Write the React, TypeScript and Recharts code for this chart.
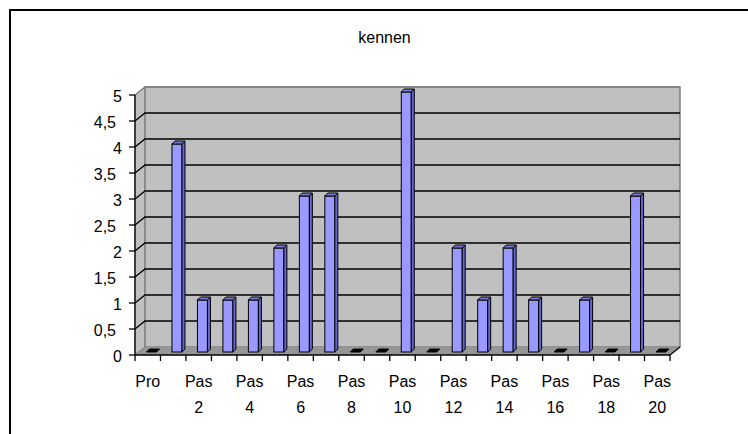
import React from 'react';
import { BarChart, Bar, XAxis, YAxis, CartesianGrid, ReferenceArea } from 'recharts';

const categories = [
  'Pro', 'Pas 1', 'Pas 2', 'Pas 3', 'Pas 4', 'Pas 5', 'Pas 6', 'Pas 7', 'Pas 8', 'Pas 9', 'Pas 10',
  'Pas 11', 'Pas 12', 'Pas 13', 'Pas 14', 'Pas 15', 'Pas 16', 'Pas 17', 'Pas 18', 'Pas 19', 'Pas 20',
];
const values = [0, 4, 1, 1, 1, 2, 3, 3, 0, 0, 5, 0, 2, 1, 2, 1, 0, 1, 0, 3, 0];
const yTicks = [0, 0.5, 1, 1.5, 2, 2.5, 3, 3.5, 4, 4.5, 5];
const title = 'kennen';

const data = categories.map((name, i) => ({ name, value: values[i] }));

const FONT = '"Liberation Sans", Arial, sans-serif';
const WALL_DX = 10;
const WALL_DY = 8;
const BAR_SX = 3.5;
const BAR_SY = 3;
const BAR_DX = 3;
const BAR_DY = 3;

const Walls = (props: any) => {
  const { x, y, width, height } = props;
  const l = x, r = x + width, t = y, b = y + height;
  return (
    <g>
      <polygon
        points={`${l},${t} ${l + WALL_DX},${t - WALL_DY} ${l + WALL_DX},${b - WALL_DY} ${l},${b}`}
        fill="#C0C0C0"
        stroke="#808080"
        strokeWidth={1}
      />
      <rect x={l + WALL_DX} y={t - WALL_DY} width={width} height={height} fill="#C0C0C0" stroke="#808080" strokeWidth={1.5} />
      <polygon
        points={`${l},${b} ${r},${b} ${r + WALL_DX},${b - WALL_DY} ${l + WALL_DX},${b - WALL_DY}`}
        fill="#969696"
        stroke="none"
      />
      <line x1={l} y1={b} x2={l + WALL_DX} y2={b - WALL_DY} stroke="#808080" strokeWidth={1} />
      <line x1={r} y1={b} x2={r + WALL_DX} y2={b - WALL_DY} stroke="#000" strokeWidth={1.2} />
    </g>
  );
};

const GridLine = (props: any) => {
  const { x1, y1, x2, y } = props;
  const isTop = typeof y === 'number' && Math.abs(y1 - y) < 0.5;
  const color = isTop ? '#808080' : '#000';
  return (
    <path
      key={`g-${y1}`}
      d={`M${x1},${y1} L${x1 + WALL_DX},${y1 - WALL_DY} L${x2 + WALL_DX},${y1 - WALL_DY}`}
      fill="none"
      stroke={color}
      strokeWidth={isTop ? 1.5 : 1.3}
    />
  );
};

const Bar3D = (props: any) => {
  const { x, y, width, height } = props;
  const fx = x + BAR_SX;
  const top = y - BAR_SY;
  const h = Math.max(0, height);
  const bottom = top + h;
  const right = fx + width;
  const topFace = `${fx},${top} ${right},${top} ${right + BAR_DX},${top - BAR_DY} ${fx + BAR_DX},${top - BAR_DY}`;
  if (h < 0.5) {
    return <polygon points={topFace} fill="#000" stroke="#000" strokeWidth={1} />;
  }
  return (
    <g>
      <rect x={fx} y={top} width={width} height={h} fill="#9999FF" stroke="#000" strokeWidth={1} />
      <polygon
        points={`${right},${top} ${right + BAR_DX},${top - BAR_DY} ${right + BAR_DX},${bottom - BAR_DY} ${right},${bottom}`}
        fill="#6666CC"
        stroke="#000"
        strokeWidth={1}
      />
      <polygon points={topFace} fill="#7B7BD6" stroke="#000" strokeWidth={1} />
    </g>
  );
};

const XTick = (props: any) => {
  const { x, y, payload, index, width, visibleTicksCount } = props;
  const half =
    payload && typeof payload.offset === 'number' && payload.offset > 0
      ? payload.offset
      : width && visibleTicksCount
      ? width / visibleTicksCount / 2
      : 12.7;
  const count = visibleTicksCount || categories.length;
  const parts = String(payload.value).split(' ');
  return (
    <g>
      <line x1={x - half} y1={y} x2={x - half} y2={y + 6} stroke="#000" strokeWidth={1.3} />
      {index === count - 1 && (
        <line x1={x + half} y1={y} x2={x + half} y2={y + 6} stroke="#000" strokeWidth={1.3} />
      )}
      {index % 2 === 0 && (
        <text x={x} y={y + 32} textAnchor="middle" fontFamily={FONT} fontSize={16} fill="#000">
          {parts[0]}
        </text>
      )}
      {index % 2 === 0 && parts[1] && (
        <text x={x} y={y + 58} textAnchor="middle" fontFamily={FONT} fontSize={16} fill="#000">
          {parts[1]}
        </text>
      )}
    </g>
  );
};

const YTick = (props: any) => {
  const { x, y, payload } = props;
  const v = Number(payload.value);
  const isInt = Number.isInteger(v);
  const label = String(v).replace('.', ',');
  return (
    <g>
      <line x1={x - 6} y1={y} x2={x} y2={y} stroke="#000" strokeWidth={1.3} />
      <text x={x - (isInt ? 13 : 19)} y={y + 6.5} textAnchor="end" fontFamily={FONT} fontSize={16} fill="#000">
        {label}
      </text>
    </g>
  );
};

export default function App() {
  return (
    <div style={{ position: 'absolute', left: 0, top: 0, width: 748, height: 434, overflow: 'hidden', background: '#fff' }}>
      <svg width={748} height={434} style={{ position: 'absolute', left: 0, top: 0 }}>
        <rect x={10} y={10} width={760} height={450} fill="#fff" stroke="#000" strokeWidth={2} />
        <text x={384.5} y={43} textAnchor="middle" fontFamily={FONT} fontSize={16} fill="#000">
          {title}
        </text>
      </svg>
      <div style={{ position: 'absolute', left: 0, top: 0 }}>
        <BarChart width={748} height={434} data={data} margin={{ top: 95, right: 78, bottom: 69, left: 125 }}>
          <ReferenceArea shape={(p: any) => <Walls {...p} />} zIndex={-200} ifOverflow="visible" />
          <CartesianGrid horizontal={(p: any) => <GridLine {...p} />} vertical={false} horizontalValues={yTicks.filter((v) => v > 0)} />
          <XAxis
            dataKey="name"
            interval={0}
            tickLine={false}
            tickSize={0}
            tickMargin={0}
            height={10}
            axisLine={{ stroke: '#000', strokeWidth: 1.3 }}
            tick={(p: any) => <XTick {...p} />}
          />
          <YAxis
            type="number"
            domain={[0, 5]}
            ticks={yTicks}
            interval={0}
            tickLine={false}
            tickSize={0}
            tickMargin={0}
            width={10}
            axisLine={{ stroke: '#000', strokeWidth: 1.3 }}
            tick={(p: any) => <YTick {...p} />}
          />
          <Bar dataKey="value" barSize={10} isAnimationActive={false} shape={(p: any) => <Bar3D {...p} />} />
        </BarChart>
      </div>
    </div>
  );
}
